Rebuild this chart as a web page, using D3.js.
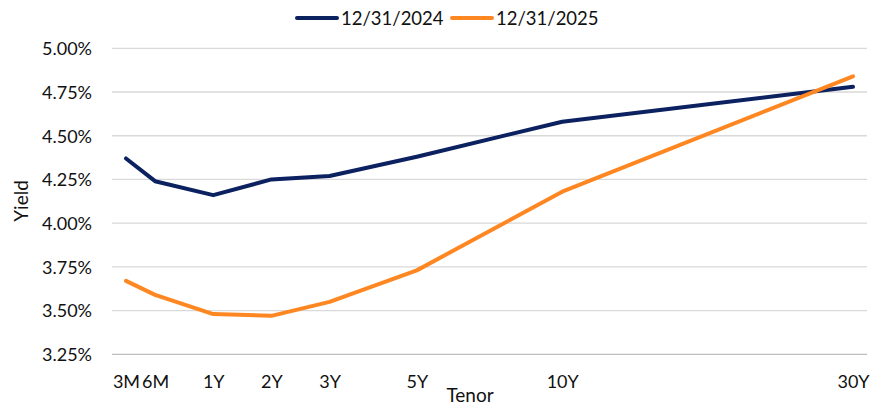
<!DOCTYPE html>
<html><head><meta charset="utf-8">
<script src="https://cdn.jsdelivr.net/npm/d3@7"></script>
<style>
html,body{margin:0;padding:0;background:#fff;}
svg text{font-family:Lato,"Open Sans",sans-serif;fill:#111;}
</style></head>
<body><svg id="c" width="883" height="410"></svg>
<script>
const tenors = ["3M","6M","1Y","2Y","3Y","5Y","10Y","30Y"];
const tenorPos = [0, 0.5, 1.5, 2.5, 3.5, 5, 7.5, 12.5];
const yield2024 = [4.37, 4.24, 4.16, 4.25, 4.27, 4.38, 4.58, 4.78];
const yield2025 = [3.67, 3.59, 3.48, 3.47, 3.55, 3.73, 4.18, 4.84];
const yTicks = [3.25, 3.50, 3.75, 4.00, 4.25, 4.50, 4.75, 5.00];
const seriesNames = ["12/31/2024", "12/31/2025"];
const colors = ["#0B2160", "#FF8722"];

const svg = d3.select("#c");
const x = d3.scaleLinear().domain([0, 12.5]).range([126, 853]);
const y = d3.scaleLinear().domain([3.25, 5.00]).range([354.3, 48.3]);
const gridLeft = 112, gridRight = 867;

// grid
svg.append("g").selectAll("line").data(yTicks).join("line")
  .attr("x1", gridLeft).attr("x2", gridRight)
  .attr("y1", d => y(d)).attr("y2", d => y(d))
  .attr("stroke", d => d === 3.25 ? "#bdbdbd" : "#d9d9d9").attr("stroke-width", 1.3);

// y axis labels
const yAxis = d3.axisLeft(y).tickValues(yTicks).tickSize(0).tickPadding(0)
  .tickFormat(d => d3.format(".2f")(d) + "%");
const ga = svg.append("g").attr("transform", "translate(92,0)").call(yAxis);
ga.select(".domain").remove();
ga.selectAll("text").attr("font-size", 18).attr("font-family", "Lato,'Open Sans',sans-serif").attr("fill", "#111").attr("dy", "0.35em");

// x axis labels
const xAxis = d3.axisBottom(x).tickValues(tenorPos).tickSize(0).tickPadding(0)
  .tickFormat((d, i) => tenors[i]);
const gx = svg.append("g").attr("transform", "translate(0,375)").call(xAxis);
gx.select(".domain").remove();
gx.selectAll("text").attr("font-size", 18).attr("font-family", "Lato,'Open Sans',sans-serif").attr("fill", "#111").attr("dy", "0.71em");

// lines
const line = d3.line().x(d => x(d[0])).y(d => y(d[1]));
[yield2024, yield2025].forEach((vals, i) => {
  svg.append("path").datum(tenorPos.map((p, j) => [p, vals[j]]))
    .attr("d", line).attr("fill", "none").attr("stroke", colors[i])
    .attr("stroke-width", 4).attr("stroke-linejoin", "round").attr("stroke-linecap", "round");
});

// axis titles
svg.append("text").attr("x", 470).attr("y", 402).attr("text-anchor", "middle").attr("font-size", 19).text("Tenor");
svg.append("text").attr("transform", "translate(28,201) rotate(-90)").attr("text-anchor", "middle").attr("font-size", 19).text("Yield");

// legend
const legX = [297, 452];
seriesNames.forEach((n, i) => {
  svg.append("line").attr("x1", legX[i]).attr("x2", legX[i] + 40).attr("y1", 18).attr("y2", 18)
    .attr("stroke", colors[i]).attr("stroke-width", 4).attr("stroke-linecap", "round");
  svg.append("text").attr("x", legX[i] + 44).attr("y", 24.5).attr("font-size", 18.5).text(n);
});
</script></body></html>
